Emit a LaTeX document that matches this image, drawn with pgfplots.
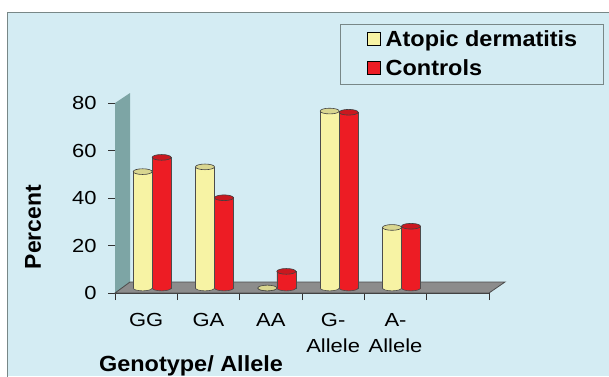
\documentclass[border=0pt]{standalone}
\usepackage{pgfplots}
\pgfplotsset{compat=1.18}
\usepackage{pgfplotstable}
\usepackage{fontspec}
\setmainfont{Liberation Sans}
\newfontfamily\tickfont[FakeStretch=1.16]{Liberation Sans}
\newfontfamily\boldwide[FakeStretch=1.07]{Liberation Sans Bold}
\definecolor{bg}{RGB}{212,236,243}
\definecolor{ylw}{RGB}{247,243,164}
\definecolor{rd}{RGB}{237,28,36}
\definecolor{floorc}{RGB}{140,140,140}
\definecolor{wallc}{RGB}{125,165,165}
\definecolor{frame}{RGB}{120,135,135}
\pgfdeclareplotmark{lowell}{%
  \pgfpathmoveto{\pgfqpoint{-\pgfplotmarksize}{0pt}}%
  \pgfpatharc{180}{360}{\pgfplotmarksize and 0.3\pgfplotmarksize}%
  \pgfpathclose\pgfusepathqfill
  \pgfpathmoveto{\pgfqpoint{-\pgfplotmarksize}{0pt}}%
  \pgfpatharc{180}{360}{\pgfplotmarksize and 0.3\pgfplotmarksize}%
  \pgfusepathqstroke}
\pgfplotstableread{
x ad ctrl
0 49 55
1 51 38
2 0 7
3 74.5 74
4 25.5 26
}\datatab
\begin{document}
\begin{tikzpicture}[x=1bp,y=1bp]
\useasboundingbox (0,0) rectangle (609,376);
\fill[white] (0,0) rectangle (609,376);
\fill[bg] (7.3,0) rectangle (612,363.7);
\draw[frame, line width=0.8bp] (7.3,-2) -- (7.3,363.7) -- (612,363.7);
\begin{axis}[
  at={(115bp,83bp)}, anchor=south west,
  scale only axis, width=374bp, height=190bp,
  xmin=-0.5, xmax=5.5, ymin=0, ymax=80,
  clip=false,
  axis lines*=left,
  axis line style={black!80, line width=0.8bp},
  ytick={0,20,...,80},
  tick align=outside,
  major tick length=7bp,
  tick style={black!80, line width=0.8bp},
  xtick={-0.5,0.5,...,5.5},
  xticklabels={},
  extra x ticks={0,1,2,3,4},
  extra x tick labels={GG,GA,AA,{G-\\Allele},{A-\\Allele}},
  ticklabel style={font=\tickfont\fontsize{19}{26}\selectfont},
  extra x tick style={major tick length=0pt,
     xticklabel style={align=center, anchor=north, yshift=-17bp}},
  yticklabel style={xshift=-8bp},
  /pgf/number format/assume math mode=true,
  xlabel={Genotype/ Allele},
  ylabel={Percent},
  xlabel style={font=\boldwide\fontsize{22}{26}\selectfont, at={(rel axis cs:0.2032,-0.415)}, anchor=base},
  ylabel style={font=\bfseries\fontsize{23}{26}\selectfont, at={(rel axis cs:-0.2193,0.347)}, anchor=center, rotate=0},
]
% wall and floor
\fill[wallc] (axis cs:-0.5,0) -- (axis cs:-0.5,80) -- ([xshift=15bp,yshift=10bp]axis cs:-0.5,80) -- ([xshift=15bp,yshift=11bp]axis cs:-0.5,0) -- cycle;
\filldraw[fill=floorc, draw=black!70, line width=0.8bp] (axis cs:-0.5,0) -- (axis cs:5.5,0) -- ([xshift=16bp,yshift=11bp]axis cs:5.5,0) -- ([xshift=15bp,yshift=11bp]axis cs:-0.5,0) -- cycle;
% bars
\addplot[ybar, bar width=19bp, bar shift=-9.5bp, draw=black!70, line width=0.6bp,
   fill=ylw, xshift=6bp, yshift=5bp]
  table[x=x, y=ad] {\datatab};
\addplot[ybar, bar width=19bp, bar shift=9.5bp, draw=black!70, line width=0.6bp,
   fill=rd, xshift=6bp, yshift=5bp]
  table[x=x, y=ctrl] {\datatab};
% bottom half ellipses
\addplot[only marks, mark=lowell, mark size=9.5bp, mark options={fill=ylw, draw=black!70, line width=0.6bp}, xshift=6bp, yshift=5bp]
  table[x expr=\thisrow{x}-0.1524, y expr=0] {\datatab};
\addplot[only marks, mark=lowell, mark size=9.5bp, mark options={fill=rd, draw=black!70, line width=0.6bp}, xshift=6bp, yshift=5bp]
  table[x expr=\thisrow{x}+0.1524, y expr=0] {\datatab};
% top ellipses
\addplot[only marks, mark=*, mark size=9.5bp, mark options={yscale=0.3, fill=ylw!88!black, draw=black!75, line width=0.6bp}, xshift=6bp, yshift=5bp]
  table[x expr=\thisrow{x}-0.1524, y=ad] {\datatab};
\addplot[only marks, mark=*, mark size=9.5bp, mark options={yscale=0.3, fill=rd!85!black, draw=black!75, line width=0.6bp}, xshift=6bp, yshift=5bp]
  table[x expr=\thisrow{x}+0.1524, y=ctrl] {\datatab};
\end{axis}
% legend
\draw[frame, line width=0.8bp] (340,292) rectangle (603,352);
\filldraw[fill=ylw, draw=black, line width=0.8bp] (367,330.5) rectangle (380.5,343.5);
\filldraw[fill=rd, draw=black, line width=0.8bp] (367,302) rectangle (380.5,315);
\node[anchor=base west, inner sep=0pt, font=\boldwide\fontsize{22}{26}\selectfont] at (385.5,329.5) {Atopic dermatitis};
\node[anchor=base west, inner sep=0pt, font=\boldwide\fontsize{22}{26}\selectfont] at (385.5,301) {Controls};
\end{tikzpicture}
\end{document}
